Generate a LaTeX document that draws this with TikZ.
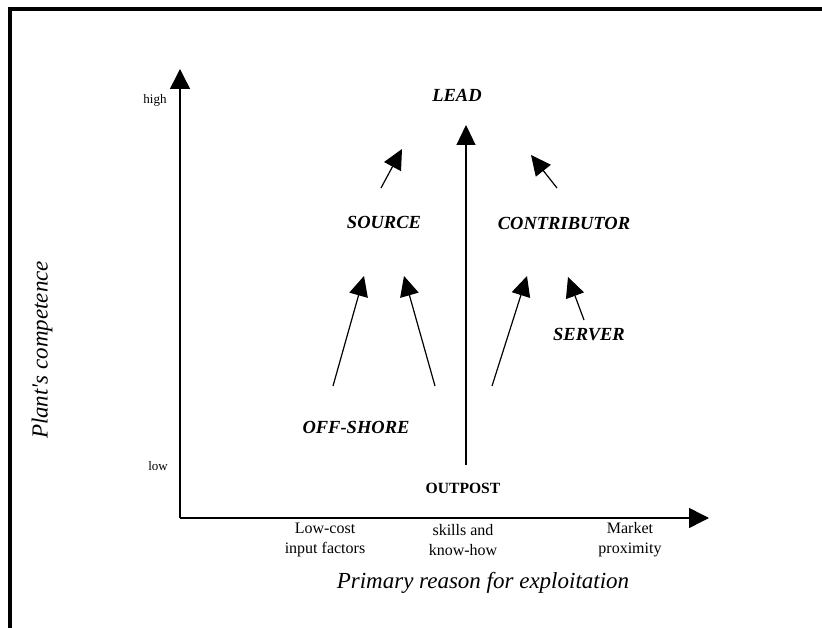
\documentclass[tikz,border=0pt]{standalone}
\usepackage{fontspec}
\setmainfont{Liberation Serif}
\usetikzlibrary{arrows.meta}
\begin{document}
\begin{tikzpicture}[x=1pt,y=-1pt,
  axis/.style={line width=1.5pt,-{Triangle[length=20pt,width=20pt]}},
  move/.style={line width=1.2pt,-{Triangle[length=20pt,width=19pt]}},
  role/.style={font=\fontsize{18.5}{20}\selectfont\bfseries\itshape, inner sep=0pt},
  tick/.style={font=\fontsize{16}{20}\selectfont, align=center, inner sep=0pt},
  small/.style={font=\fontsize{13}{15}\selectfont, inner sep=0pt},
  title/.style={font=\fontsize{23}{26}\selectfont\itshape, inner sep=0pt}]
\useasboundingbox (0,0) rectangle (822,628);
\draw[line width=4pt, line join=miter] (10,628) -- (10,9) -- (822,9);

% axes
\coordinate (O) at (180,518);
\coordinate (ytip) at (180,69);
\coordinate (xtip) at (709,518);
\draw[axis] (O) -- (ytip);
\draw[axis] (O) -- (xtip);

% roles
\node[role] (lead) at (457,95) {LEAD};
\node[role] (source) at (384,222) {SOURCE};
\node[role] (contrib) at (564,223) {CONTRIBUTOR};
\node[role] (offshore) at (356,427) {OFF-SHORE};
\node[role] (server) at (589,335) {SERVER};
\node[font=\fontsize{15.6}{18}\selectfont\bfseries, inner sep=0pt] (outpost) at (463,488) {OUTPOST};

% movement arrows
\coordinate (a1s) at (333,386); \coordinate (a1e) at (364,276);
\coordinate (a2s) at (435,386); \coordinate (a2e) at (404,276);
\coordinate (a3s) at (492,386); \coordinate (a3e) at (527,276);
\coordinate (a4s) at (584,320); \coordinate (a4e) at (568,277);
\coordinate (a5s) at (381,188); \coordinate (a5e) at (402,149);
\coordinate (a6s) at (557,188); \coordinate (a6e) at (531,155);
\coordinate (cs) at (466,465); \coordinate (ce) at (466,125);
\draw[move] (a1s) -- (a1e);
\draw[move] (a2s) -- (a2e);
\draw[move] (a3s) -- (a3e);
\draw[move] (a4s) -- (a4e);
\draw[move] (a5s) -- (a5e);
\draw[move] (a6s) -- (a6e);
\draw[move] (cs) -- (ce);

% axis labels
\node[small] (high) at (155,100) {high};
\node[small] (low) at (158,466) {low};
\node[tick] (lc) at (325,540) {Low-cost\\input factors};
\node[tick] (sk) at (463,540) {skills and\\know-how};
\node[tick] (mk) at (630,540) {Market\\proximity};
\node[title] (xt) at (483,583) {Primary reason for exploitation};
\node[title, rotate=90] (yt) at (42,350) {Plant\textquotesingle s competence};
\end{tikzpicture}
\end{document}
